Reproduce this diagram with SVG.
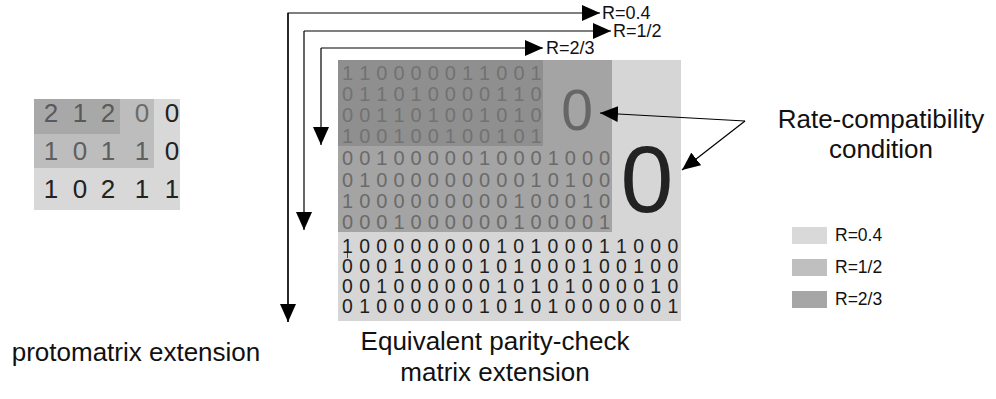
<svg xmlns="http://www.w3.org/2000/svg" width="996" height="399" viewBox="0 0 996 399">
  <style>
    text { font-family: "Liberation Sans", Arial, sans-serif; }
    .bit { font-size: 20px; letter-spacing: 0.23px; }
    .bit-l { font-size: 19.4px; letter-spacing: 0.48px; }
    .b-d { fill: #727272; }
    .b-m { fill: #6a6a6a; }
    .b-l { fill: #1e1e1e; }
    .pm { font-size: 26px; text-anchor: middle; }
    .lbl { font-size: 26px; fill: #111; text-anchor: middle; }
    .rate { font-size: 18px; fill: #111; }
    .leg { font-size: 17.5px; fill: #111; }
    .conn { fill: none; stroke: #000; stroke-width: 1.2; marker-end: url(#head); }
  </style>
  <defs>
    <marker id="head" viewBox="0 0 18 16" refX="18" refY="8" markerWidth="18" markerHeight="16" markerUnits="userSpaceOnUse" orient="auto">
      <path d="M0,0 L18,8 L0,16 Z" fill="#000"/>
    </marker>
  </defs>

  <!-- base protomatrix with nested rate regions -->
  <g id="protomatrix">
    <rect x="34" y="99" width="146" height="111" fill="#d8d8d8"/>
    <rect x="34" y="99" width="120" height="69" fill="#bdbdbd"/>
    <rect x="34" y="99" width="86" height="35" fill="#a8a8a8"/>
    <g class="pm">
      <text x="51" y="122" fill="#5a5a5a">2</text>
      <text x="80" y="122" fill="#5a5a5a">1</text>
      <text x="108" y="122" fill="#5a5a5a">2</text>
      <text x="142" y="122" fill="#6b6b6b">0</text>
      <text x="172" y="122" fill="#222">0</text>
      <text x="51" y="160" fill="#5f5f5f">1</text>
      <text x="80" y="160" fill="#5f5f5f">0</text>
      <text x="108" y="160" fill="#5f5f5f">1</text>
      <text x="142" y="160" fill="#5f5f5f">1</text>
      <text x="172" y="160" fill="#222">0</text>
      <text x="51" y="198" fill="#222">1</text>
      <text x="80" y="198" fill="#222">0</text>
      <text x="108" y="198" fill="#222">2</text>
      <text x="142" y="198" fill="#222">1</text>
      <text x="172" y="198" fill="#222">1</text>
    </g>
  </g>

  <!-- lifted parity-check matrix -->
  <g id="parity-matrix">
    <rect x="338" y="60" width="343" height="261" fill="#d6d6d6"/>
    <rect x="338" y="60" width="274" height="172" fill="#a4a4a4"/>
    <rect x="338" y="60" width="205" height="86" fill="#8f8f8f"/>
    <g class="bit b-d">
      <text x="342" y="79.5">1 1 0 0 0 0 0 1 1 0 0 1</text>
      <text x="342" y="100.5">0 1 1 0 1 0 0 0 0 1 1 0</text>
      <text x="342" y="121.5">0 0 1 1 0 1 0 0 1 0 1 0</text>
      <text x="342" y="142.5">1 0 0 1 0 0 1 0 0 1 0 1</text>
    </g>
    <g class="bit b-m">
      <text x="342" y="165">0 0 1 0 0 0 0 0 1 0 0 0 1 0 0 0</text>
      <text x="342" y="186.5">0 1 0 0 0 0 0 0 0 0 0 1 0 1 0 0</text>
      <text x="342" y="208">1 0 0 0 0 0 0 0 0 0 1 0 0 0 1 0</text>
      <text x="342" y="229">0 0 0 1 0 0 0 0 0 0 1 0 0 0 0 1</text>
    </g>
    <g class="bit-l b-l">
      <text x="342" y="253">1 0 0 0 0 0 0 0 0 1 0 1 0 0 0 1 1 0 0 0</text>
      <text x="342" y="273">0 0 0 1 0 0 0 0 1 0 1 0 0 0 1 0 0 1 0 0</text>
      <text x="342" y="293">0 0 1 0 0 0 0 0 0 1 0 1 0 1 0 0 0 0 1 0</text>
      <text x="342" y="313">0 1 0 0 0 0 0 0 1 0 1 0 1 0 0 0 0 0 0 1</text>
    </g>
    <line x1="347.5" y1="253" x2="347.5" y2="258" stroke="#444" stroke-width="1"/>
    <text x="577" y="130" font-size="57" fill="#666" text-anchor="middle">0</text>
    <text x="647" y="212" font-size="95" fill="#222" text-anchor="middle">0</text>
  </g>

  <!-- rate legend -->
  <g id="legend">
    <rect x="792" y="227" width="35" height="17" fill="#d9d9d9"/>
    <text class="leg" x="835" y="241">R=0.4</text>
    <rect x="792" y="259" width="35" height="17" fill="#bfbfbf"/>
    <text class="leg" x="835" y="273">R=1/2</text>
    <rect x="792" y="291" width="35" height="17" fill="#a6a6a6"/>
    <text class="leg" x="835" y="305">R=2/3</text>
  </g>

  <!-- rate-extension arrows and condition pointers -->
  <g id="connectors">
    <polyline class="conn" points="288,322 288,13 600,13"/>
    <line class="conn" x1="288" y1="13" x2="288" y2="322"/>
    <polyline class="conn" points="304,31 611,31"/>
    <line class="conn" x1="304" y1="31" x2="304" y2="230"/>
    <polyline class="conn" points="321,48 543,48"/>
    <line class="conn" x1="321" y1="48" x2="321" y2="145"/>
    <line class="conn" x1="745" y1="121" x2="600" y2="113"/>
    <line class="conn" x1="745" y1="121" x2="682" y2="170"/>
  </g>

  <g id="rate-labels">
    <text class="rate" x="602" y="19">R=0.4</text>
    <text class="rate" x="613" y="37">R=1/2</text>
    <text class="rate" x="546" y="54">R=2/3</text>
  </g>

  <g id="captions">
    <text class="lbl" x="881" y="128">Rate-compatibility</text>
    <text class="lbl" x="881" y="158">condition</text>
    <text class="lbl" x="136" y="361">protomatrix extension</text>
    <text class="lbl" x="495" y="350">Equivalent parity-check</text>
    <text class="lbl" x="495" y="381">matrix extension</text>
  </g>
</svg>
